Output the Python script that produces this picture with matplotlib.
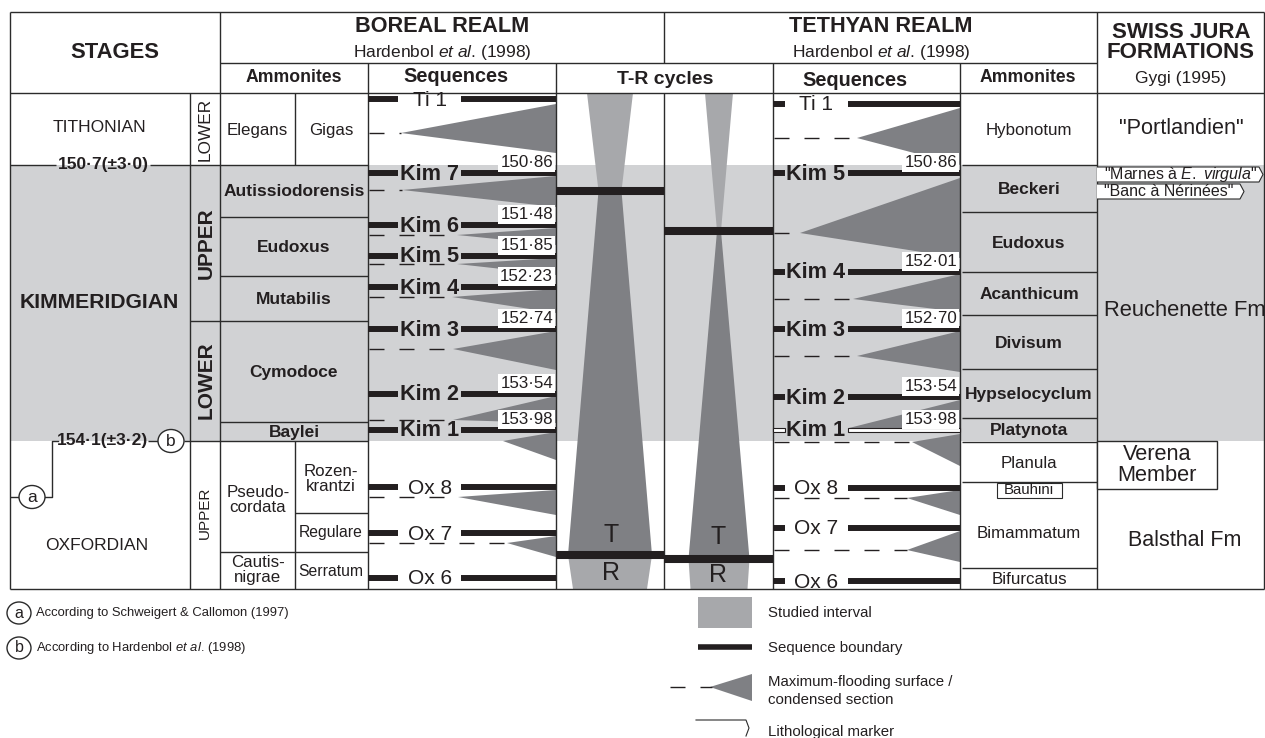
import matplotlib
matplotlib.use("Agg")
import matplotlib.pyplot as plt
from matplotlib import font_manager
from matplotlib.patches import Polygon, Rectangle, Ellipse

plt.rcParams["font.family"] = ["Liberation Sans", "DejaVu Sans"]
plt.rcParams["mathtext.fontset"] = "custom"
plt.rcParams["mathtext.rm"] = "Liberation Sans"
plt.rcParams["mathtext.it"] = "Liberation Sans:italic"
plt.rcParams["mathtext.bf"] = "Liberation Sans:bold"


def has_font(name):
    try:
        font_manager.findfont(font_manager.FontProperties(family=name),
                              fallback_to_default=False)
        return True
    except ValueError:
        return False


# narrow face for the footnotes if it is there, otherwise a smaller regular one
if has_font("Liberation Sans Narrow"):
    NOTE_FONT, NOTE_SIZE = "Liberation Sans Narrow", 11.5
else:
    NOTE_FONT, NOTE_SIZE = "Liberation Sans", 9.4

# ---- chart levels (vertical chart scale, top of page = 0) ----
body_top, body_base = 93, 589
tith_kim = 165          # 150.7 Ma boundary
kim_oxf = 441           # 154.1 Ma boundary
kim_upper_lower = 321

# Boreal ammonite zones (Kimmeridgian)
boreal_zones = ["Autissiodorensis", "Eudoxus", "Mutabilis", "Cymodoce", "Baylei"]
boreal_zone_top = [165, 217, 276, 321, 422]
boreal_zone_base = [217, 276, 321, 422, 441]

# Boreal sequences
boreal_seq = ["Ti 1", "Kim 7", "Kim 6", "Kim 5", "Kim 4", "Kim 3", "Kim 2", "Kim 1",
              "Ox 8", "Ox 7", "Ox 6"]
boreal_seq_y = [99, 173, 225, 256, 287, 329, 394, 430, 487, 533, 578]
boreal_ages = [None, "150·86", "151·48", "151·85", "152·23", "152·74", "153·54",
               "153·98", None, None, None]

# Boreal maximum-flooding wedges
boreal_mfs_y = [133, 190, 235, 264, 297, 349, 420, 441, 497, 543]
boreal_mfs_tip = [401, 402, 457, 457, 452, 453, 453, 503, 458, 507]
boreal_mfs_top = [104, 176, 228, 258, 289, 331, 396, 432, 490, 536]
boreal_mfs_bot = [153, 207, 245, 275, 313, 370, 423, 460, 515, 557]
boreal_mfs_dash = [True, True, True, True, True, True, True, False, True, True]

# Tethyan sequences
tethyan_seq = ["Ti 1", "Kim 5", "Kim 4", "Kim 3", "Kim 2", "Kim 1", "Ox 8", "Ox 7", "Ox 6"]
tethyan_seq_y = [104, 173, 272, 329, 397, 430, 488, 528, 581]
tethyan_ages = [None, "150·86", "152·01", "152·70", "153·54", "153·98", None, None, None]

tethyan_mfs_y = [138, 233, 299, 356, 428, 442, 498, 550]
tethyan_mfs_tip = [857, 800, 853, 857, 849, 912, 907, 907]
tethyan_mfs_top = [108, 178, 274, 331, 400, 434, 490, 531]
tethyan_mfs_bot = [165, 258, 312, 372, 428, 466, 515, 562]
tethyan_mfs_dash = [True, True, True, True, False, True, True, True]

# Tethyan ammonite zones
tethyan_zones = ["Hybonotum", "Beckeri", "Eudoxus", "Acanthicum", "Divisum",
                 "Hypselocyclum", "Platynota", "Planula", "Bimammatum", "Bifurcatus"]
tethyan_zone_top = [93, 165, 212, 272, 315, 369, 418, 442, 482, 568]
tethyan_zone_base = [165, 212, 272, 315, 369, 418, 442, 482, 568, 589]
tethyan_zone_bold = [False, True, True, True, True, True, True, False, False, False]

# T-R cycles: levels and half-widths of the hourglass
boreal_tr_y = [93, 191, 555, 589]
boreal_tr_hw = [23, 11.5, 42, 37]
tethyan_tr_y = [93, 231, 559, 589]
tethyan_tr_hw = [14, 2, 30.5, 28.5]

INK = "#231f20"
RULE = "#2b2b2b"
BAND = "#d1d2d4"
WEDGE = "#7f8084"
LIGHT = "#a7a8ab"

fig = plt.figure(figsize=(12.65, 7.38), dpi=100)
ax = fig.add_axes([0, 0, 1, 1])
ax.set_xlim(0, 1265)
ax.set_ylim(738, 0)
ax.axis("off")

# studied interval band
ax.add_patch(Rectangle((10, tith_kim), 1254, kim_oxf - tith_kim, fc=BAND, ec="none", zorder=0))


def seg(x0, x1, y, lw=1.0, color=RULE, z=3, **kw):
    ax.plot([x0, x1], [y, y], color=color, lw=lw, solid_capstyle="butt", zorder=z, **kw)


def vseg(x, y0, y1, lw=1.0):
    ax.plot([x, x], [y0, y1], color=RULE, lw=lw, solid_capstyle="butt", zorder=3)


def txt(x, y, s, size, bold=False, **kw):
    kw.setdefault("ha", "center")
    kw.setdefault("va", "center")
    ax.text(x, y, s, fontsize=size, fontweight="bold" if bold else "normal",
            color=INK, zorder=6, **kw)


# ---- T-R cycles ----
for cx, ys, hw in [(610, boreal_tr_y, boreal_tr_hw), (719, tethyan_tr_y, tethyan_tr_hw)]:
    shades = [LIGHT, WEDGE, LIGHT]
    for i in range(3):
        ax.add_patch(Polygon([(cx - hw[i], ys[i]), (cx + hw[i], ys[i]),
                              (cx + hw[i + 1], ys[i + 1]), (cx - hw[i + 1], ys[i + 1])],
                             closed=True, fc=shades[i], ec="none", zorder=1))
left_tr = {610: 556, 719: 664}
right_tr = {610: 664, 719: 773}
for cx, ys in [(610, boreal_tr_y), (719, tethyan_tr_y)]:
    for y in ys[1:3]:
        seg(left_tr[cx], right_tr[cx], y, lw=5.8, color=INK, z=4)
txt(611, 535, "T", 18)
txt(611, 573, "R", 18)
txt(718, 537, "T", 18)
txt(718, 575, "R", 18)

# ---- sequence columns ----
dash_style = (0, (10.8, 10.8))


def sequences(x_left, x_right, gap0, gap1, label_x, names, ys, ages,
              mfs_y, mfs_tip, mfs_top, mfs_bot, mfs_dash, hollow=()):
    for y, tip, t, b, d in zip(mfs_y, mfs_tip, mfs_top, mfs_bot, mfs_dash):
        ax.add_patch(Polygon([(tip, y), (x_right, t), (x_right, b)], closed=True,
                             fc=WEDGE, ec="none", zorder=2))
        if d:
            ax.plot([x_left + 1, tip], [y, y], color=INK, lw=1.0, ls=dash_style, zorder=2)
    for name, y, age in zip(names, ys, ages):
        if name in hollow:
            for a, b in [(x_left, gap0), (gap1, x_right)]:
                ax.add_patch(Rectangle((a, y - 2), b - a, 3.5, fc="white", ec=INK,
                                       lw=0.8, zorder=4))
        else:
            seg(x_left, gap0, y, lw=4.3, color=INK, z=4)
            seg(gap1, x_right, y, lw=4.3, color=INK, z=4)
        bold = name.startswith("Kim")
        txt(label_x, y + 1, name, 15.6 if bold else 15, bold=bold)
        if age:
            ax.text(x_right - 3, y - 10.5, age, fontsize=12.2, ha="right", va="center",
                    color=INK, zorder=5,
                    bbox=dict(boxstyle="square,pad=0.12", fc="white", ec="none"))


sequences(368, 556, 398, 461, 430, boreal_seq, boreal_seq_y, boreal_ages,
          boreal_mfs_y, boreal_mfs_tip, boreal_mfs_top, boreal_mfs_bot, boreal_mfs_dash)
sequences(773, 960, 785, 848, 816, tethyan_seq, tethyan_seq_y, tethyan_ages,
          tethyan_mfs_y, tethyan_mfs_tip, tethyan_mfs_top, tethyan_mfs_bot,
          tethyan_mfs_dash, hollow=("Kim 1",))

# ---- table frame ----
seg(10, 1264, 12)
seg(10, 1264, body_top)
seg(10, 1264, body_base)
seg(220, 1097, 63)
vseg(10, 12, body_base)
vseg(1264, 12, body_base)
vseg(220, 12, body_base)
vseg(190, body_top, body_base)
for x in [368, 556, 773, 960]:
    vseg(x, 63, body_base)
vseg(664, 12, 63)
vseg(664, body_top, body_base)
vseg(1097, 12, body_base)
vseg(295, body_top, tith_kim)
vseg(295, kim_oxf, body_base)

# substage and boreal ammonite rules
for y in [tith_kim, kim_upper_lower, kim_oxf]:
    seg(190, 220, y)
for y in [tith_kim] + boreal_zone_base:
    seg(220, 368, y)
seg(295, 368, 513)
seg(220, 368, 552)
for y in tethyan_zone_base[:-1]:
    seg(962, 1097, y)

# ---- headers ----
txt(115, 52, "STAGES", 15.8, bold=True)
txt(442, 27, "BOREAL REALM", 15.6, bold=True)
txt(442, 52, r"Hardenbol $\mathit{et\ al}$. (1998)", 12.5)
txt(881, 27, "TETHYAN REALM", 15.6, bold=True)
txt(881, 52, r"Hardenbol $\mathit{et\ al}$. (1998)", 12.5)
txt(1181, 32, "SWISS JURA", 16, bold=True)
txt(1181, 53, "FORMATIONS", 16, bold=True)
txt(1181, 79, "Gygi (1995)", 12.5)
txt(294, 78, "Ammonites", 12.7, bold=True)
txt(456, 77, "Sequences", 14.3, bold=True)
txt(665, 80, "T-R cycles", 14, bold=True)
txt(855, 80, "Sequences", 14.3, bold=True)
txt(1028, 77, "Ammonites", 12.7, bold=True)

# ---- stages ----
txt(99, 128, "TITHONIAN", 12.5)
txt(99, 303, "KIMMERIDGIAN", 15.2, bold=True)
txt(97, 545, "OXFORDIAN", 12.5)
txt(205, 129, "LOWER", 12.4, rotation=90)
txt(206, 243, "UPPER", 15, bold=True, rotation=90)
txt(206, 380, "LOWER", 15, bold=True, rotation=90)
txt(205, 513, "UPPER", 11, rotation=90)

seg(10, 56, tith_kim)
seg(150, 190, tith_kim)
txt(103, tith_kim, "150·7(±3·0)", 12.5, bold=True)
txt(103, kim_oxf, "154·1(±3·2)", 12.5, bold=True)
seg(148, 158, kim_oxf)
seg(184, 190, kim_oxf)
ax.plot([58, 52, 52, 45], [kim_oxf, kim_oxf, 497, 497], color=RULE, lw=1.0, zorder=3)
seg(10, 19, 497)
for cx, cy, letter in [(171, kim_oxf, "b"), (32, 497, "a")]:
    ax.add_patch(Ellipse((cx, cy), 26, 23, fc="white", ec=RULE, lw=1.0, zorder=4))
    txt(cx, cy, letter, 12.5)

# ---- boreal ammonites ----
txt(257, 130, "Elegans", 12.2)
txt(331, 130, "Gigas", 12.2)
for name, t, b in zip(boreal_zones, boreal_zone_top, boreal_zone_base):
    txt(294, (t + b) / 2 + 1, name, 12.5, bold=True)
txt(258, 500, "Pseudo-\ncordata", 12.2, linespacing=1.0)
txt(258, 570, "Cautis-\nnigrae", 12.2, linespacing=0.95)
txt(331, 479, "Rozen-\nkrantzi", 12.2, linespacing=1.0)
txt(331, 533, "Regulare", 11.3)
txt(331, 572, "Serratum", 11.3)

# ---- tethyan ammonites ----
for name, t, b, bold in zip(tethyan_zones, tethyan_zone_top, tethyan_zone_base,
                            tethyan_zone_bold):
    y = (t + b) / 2 + 1
    if name == "Bimammatum":
        y += 8
    txt(1029, y, name, 12.5 if bold else 12.2, bold=bold)
ax.add_patch(Rectangle((997, 483), 65, 15, fc="white", ec=RULE, lw=0.8, zorder=4))
txt(1029, 490.5, "Bauhini", 10.8)

# ---- swiss jura formations ----
txt(1181, 128, '"Portlandien"', 15.6)
txt(1104, 311, "Reuchenette Fm", 15.8, ha="left")
txt(1185, 540, "Balsthal Fm", 15.5)
ax.add_patch(Rectangle((1097, kim_oxf), 120, 48, fc="white", ec=RULE, lw=1.0, zorder=4))
txt(1157, 465, "Verena\nMember", 15.7, linespacing=1.0)

for y0, y1, x_end, label in [(167, 182, 1259, r'"Marnes à $\mathit{E.\ virgula}$"'),
                             (184, 199, 1240, '"Banc à Nérinées"')]:
    ym = (y0 + y1) / 2
    ax.add_patch(Polygon([(1097, y0), (x_end, y0), (x_end + 4, ym), (x_end, y1), (1097, y1)],
                         closed=False, fc="white", ec=RULE, lw=0.8, zorder=4))
    txt(1104, ym + 0.5, label, 11.5, ha="left")

# ---- legend ----
for cy, letter, label in [(613, "a", "According to Schweigert & Callomon (1997)"),
                          (648, "b", r"According to Hardenbol $\mathit{et\ al}$. (1998)")]:
    ax.add_patch(Ellipse((19, cy), 24, 22, fc="white", ec=RULE, lw=1.0, zorder=4))
    txt(19, cy, letter, 11.5)
    ax.text(36, cy, label, fontsize=NOTE_SIZE, family=[NOTE_FONT, "Liberation Sans"],
            ha="left", va="center", color=INK)

ax.add_patch(Rectangle((698, 597), 54, 31, fc=LIGHT, ec="none"))
seg(698, 752, 647, lw=4.0, color=INK)
ax.plot([670, 712], [687, 687], color=INK, lw=1.0, ls=dash_style)
ax.add_patch(Polygon([(710, 687), (752, 674), (752, 701)], closed=True, fc=WEDGE, ec="none"))
ax.plot([696, 746, 749, 746], [720, 720, 728, 736], color=RULE, lw=0.8)
for y, label in [(613, "Studied interval"), (648, "Sequence boundary"),
                 (682, "Maximum-flooding surface /"), (700, "condensed section"),
                 (732, "Lithological marker")]:
    ax.text(768, y, label, fontsize=10.8, ha="left", va="center", color=INK)

fig.savefig("out.png", dpi=100)
